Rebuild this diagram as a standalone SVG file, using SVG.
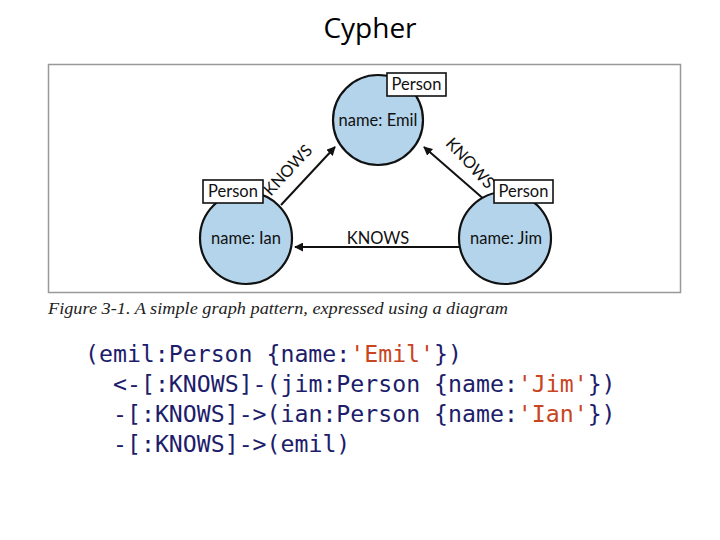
<svg xmlns="http://www.w3.org/2000/svg" width="720" height="540" viewBox="0 0 720 540">
<style>
.node circle{fill:#b3d4ea;stroke:#111;stroke-width:2.2}
.lbl rect{fill:#fff;stroke:#111;stroke-width:1.6}
.t{font-family:Lato,"Open Sans","Liberation Sans",sans-serif;font-size:16.5px;fill:#111;text-anchor:middle}
.edge{stroke:#111;stroke-width:2;fill:none;marker-end:url(#ah)}
.code{font-family:"DejaVu Sans Mono",monospace;font-size:23.2px;fill:#1d1d6b}
.s{fill:#c8451f}
</style>
<defs>
<marker id="ah" viewBox="0 0 10 10" refX="9" refY="5" markerWidth="9" markerHeight="9" markerUnits="userSpaceOnUse" orient="auto">
<path d="M0,0 L10,5 L0,10 z" fill="#111"/>
</marker>
</defs>
<rect width="720" height="540" fill="#fff"/>
<text x="370" y="38" font-family="Open Sans,Liberation Sans,sans-serif" font-size="28" text-anchor="middle" fill="#000">Cypher</text>
<rect x="48.5" y="64.5" width="632" height="228" fill="#fff" stroke="#999" stroke-width="1.5"/>
<g id="connectors">
<line class="edge" x1="281" y1="205" x2="335" y2="147"/>
<line class="edge" x1="486" y1="201" x2="424" y2="147"/>
<line class="edge" x1="459" y1="247" x2="295" y2="247"/>
<text class="t" x="378" y="244">KNOWS</text>
<text class="t" transform="translate(292,174) rotate(-47)">KNOWS</text>
<text class="t" transform="translate(466,167) rotate(47)">KNOWS</text>
</g>
<g id="emil" class="node">
<circle cx="378" cy="120" r="45"/>
<text class="t" x="378" y="126">name: Emil</text>
<g class="lbl"><rect x="387" y="73" width="59" height="23"/><text class="t" x="416.5" y="90">Person</text></g>
</g>
<g id="ian" class="node">
<circle cx="246" cy="238" r="46"/>
<text class="t" x="246" y="244">name: Ian</text>
<g class="lbl"><rect x="203" y="180" width="60" height="23"/><text class="t" x="233" y="197">Person</text></g>
</g>
<g id="jim" class="node">
<circle cx="505" cy="238" r="46"/>
<text class="t" x="506" y="244">name: Jim</text>
<g class="lbl"><rect x="494" y="180" width="59" height="23"/><text class="t" x="523.5" y="197">Person</text></g>
</g>
<text x="48" y="314" font-family="Liberation Serif,serif" font-style="italic" font-size="17" fill="#222" textLength="460" lengthAdjust="spacingAndGlyphs">Figure 3-1. A simple graph pattern, expressed using a diagram</text>
<text class="code" x="85" y="362">(emil:Person {name:<tspan class="s">'Emil'</tspan>})</text>
<text class="code" x="113" y="392">&lt;-[:KNOWS]-(jim:Person {name:<tspan class="s">'Jim'</tspan>})</text>
<text class="code" x="113" y="422">-[:KNOWS]-&gt;(ian:Person {name:<tspan class="s">'Ian'</tspan>})</text>
<text class="code" x="113" y="452">-[:KNOWS]-&gt;(emil)</text>
</svg>
